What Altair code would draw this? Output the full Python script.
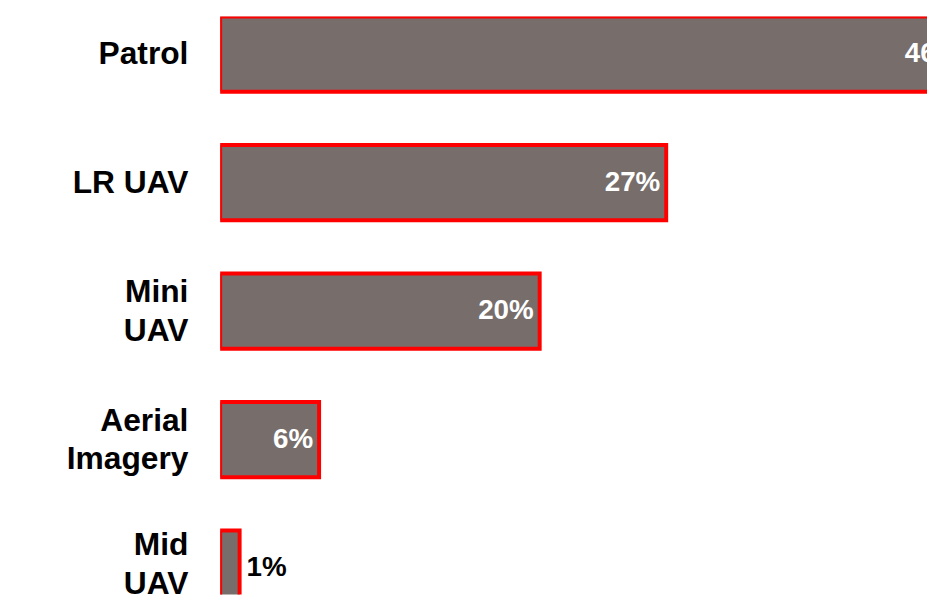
import altair as alt
import pandas as pd

categories = ["Patrol", "LR UAV", "Mini UAV", "Aerial Imagery", "Mid UAV"]
cat_labels = ["Patrol", "LR UAV", "Mini|UAV", "Aerial|Imagery", "Mid|UAV"]
label_group = ["one", "one", "two", "two", "last"]
values = [46.0, 27.5, 19.7, 6.1, 1.2]
value_labels = ["46%", "27%", "20%", "6%", "1%"]
inside = [True, True, True, True, False]

df = pd.DataFrame({
    "cat": categories,
    "catlabel": cat_labels,
    "grp": label_group,
    "value": values,
    "vlabel": value_labels,
    "inside": inside,
})

FONT = "Liberation Sans"
y_enc = alt.Y("cat:N", sort=categories, axis=None,
              scale=alt.Scale(paddingInner=0.4136, paddingOuter=0, range=[0, 594.4]))
x_enc = alt.X("value:Q", axis=None,
              scale=alt.Scale(domain=[0, 43.58], nice=False, zero=True))

bars = alt.Chart(df).mark_bar(
    color="#776e6b", stroke="#ff0000", strokeWidth=4, strokeJoin="miter", clip=True
).encode(y=y_enc, x=x_enc)


def cat_layer(grp, dy):
    return alt.Chart(df).transform_filter(f"datum.grp == '{grp}'").mark_text(
        align="right", baseline="middle", fontSize=32, fontWeight="bold",
        font=FONT, lineBreak="|", lineHeight=39, color="black", dy=dy
    ).encode(y=y_enc, x=alt.value(-32), text="catlabel:N")


cat_one = cat_layer("one", 0)
cat_two = cat_layer("two", -19)
cat_last = cat_layer("last", -23)

in_text = alt.Chart(df).transform_filter("datum.inside").mark_text(
    align="right", baseline="middle", fontSize=28, fontWeight="bold",
    font=FONT, color="white", dx=-6, clip=True
).encode(y=y_enc, x=x_enc, text="vlabel:N")

out_text = alt.Chart(df).transform_filter("!datum.inside").mark_text(
    align="left", baseline="middle", fontSize=28, fontWeight="bold",
    font=FONT, color="black", dx=7, clip=True
).encode(y=y_enc, x=x_enc, text="vlabel:N")

chart = alt.layer(bars, cat_one, cat_two, cat_last, in_text, out_text).properties(
    width=713, height=583,
    autosize=alt.AutoSizeParams(type="none"),
    padding={"left": 214, "top": 6, "right": 0, "bottom": 0},
    background="white",
).configure_view(stroke=None)

chart.save("out.html", embed_options={"renderer": "svg", "actions": False})
